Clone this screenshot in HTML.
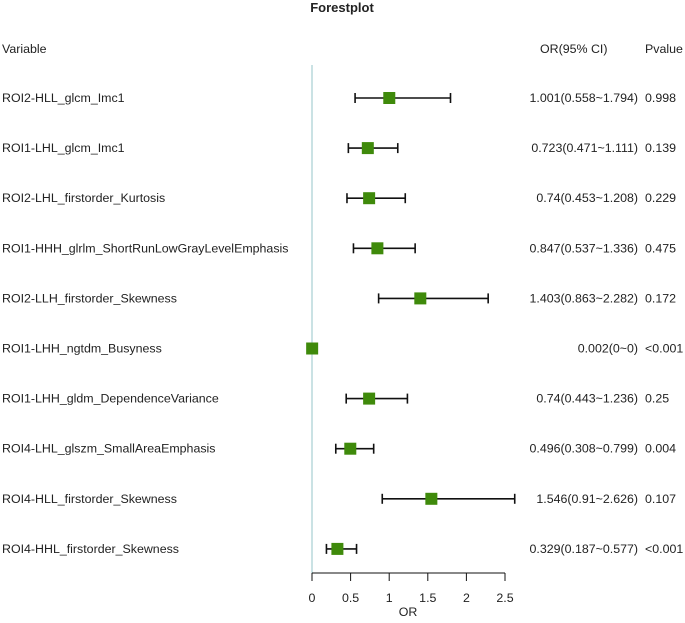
<!DOCTYPE html>
<html><head><meta charset="utf-8"><style>
body{margin:0;background:#fff;font-family:"Liberation Sans",sans-serif;}
text{font-family:"Liberation Sans",sans-serif;fill:#222;}
</style></head><body>
<svg width="685" height="618">
<text x="342" y="12" font-size="13" font-weight="bold" text-anchor="middle">Forestplot</text>
<text x="2" y="53" font-size="12.4">Variable</text>
<text x="540" y="53" font-size="12.4">OR(95% CI)</text>
<text x="645" y="53" font-size="12.4">Pvalue</text>
<line x1="312" y1="65" x2="312" y2="573" stroke="#b8d8dc" stroke-width="1.5"/>
<g id="rows"></g>
<g id="axis"></g>
<text x="408" y="616" font-size="12.4" text-anchor="middle">OR</text>
</svg>
<script>
const variables=["ROI2-HLL_glcm_Imc1","ROI1-LHL_glcm_Imc1","ROI2-LHL_firstorder_Kurtosis","ROI1-HHH_glrlm_ShortRunLowGrayLevelEmphasis","ROI2-LLH_firstorder_Skewness","ROI1-LHH_ngtdm_Busyness","ROI1-LHH_gldm_DependenceVariance","ROI4-LHL_glszm_SmallAreaEmphasis","ROI4-HLL_firstorder_Skewness","ROI4-HHL_firstorder_Skewness"];
const orValues=[1.001,0.723,0.74,0.847,1.403,0.002,0.74,0.496,1.546,0.329];
const lowerCI=[0.558,0.471,0.453,0.537,0.863,0,0.443,0.308,0.91,0.187];
const upperCI=[1.794,1.111,1.208,1.336,2.282,0,1.236,0.799,2.626,0.577];
const ciLabels=["1.001(0.558~1.794)","0.723(0.471~1.111)","0.74(0.453~1.208)","0.847(0.537~1.336)","1.403(0.863~2.282)","0.002(0~0)","0.74(0.443~1.236)","0.496(0.308~0.799)","1.546(0.91~2.626)","0.329(0.187~0.577)"];
const pValues=["0.998","0.139","0.229","0.475","0.172","<0.001","0.25","0.004","0.107","<0.001"];
const ticks=[0,0.5,1,1.5,2,2.5];
const NS="http://www.w3.org/2000/svg";
const xs=v=>312+v*77.2;
const ys=i=>98+i*50.1;
function mk(tag,attrs,parent,txt){const e=document.createElementNS(NS,tag);for(const k in attrs)e.setAttribute(k,attrs[k]);if(txt!==undefined)e.textContent=txt;parent.appendChild(e);return e;}
const rows=document.getElementById('rows');
variables.forEach((v,i)=>{
 const y=ys(i);
 const t1=mk('text',{x:2,y:y+4,'font-size':12.4},rows,v);
 
 
 const t2=mk('text',{x:638,y:y+4,'font-size':12.4,'text-anchor':'end'},rows,ciLabels[i]);
 
 
 const t3=mk('text',{x:645,y:y+4,'font-size':12.4},rows,pValues[i]);
 
 
 if(upperCI[i]>lowerCI[i]){
  const g=mk('g',{stroke:'#111','stroke-width':1.6},rows);
  
  
  mk('line',{x1:xs(lowerCI[i]),x2:xs(upperCI[i]),y1:y,y2:y},g);
  mk('line',{x1:xs(lowerCI[i]),x2:xs(lowerCI[i]),y1:y-5,y2:y+5},g);
  mk('line',{x1:xs(upperCI[i]),x2:xs(upperCI[i]),y1:y-5,y2:y+5},g);
 }
 const r=mk('rect',{x:xs(orValues[i])-6,y:y-6,width:12,height:12,fill:'#3f8a0b'},rows);
 
 
});
const ax=document.getElementById('axis');
const al=mk('line',{x1:xs(0),x2:xs(2.5),y1:573,y2:573,stroke:'#111','stroke-width':1},ax);


ticks.forEach(t=>{
 const tk=mk('line',{x1:xs(t),x2:xs(t),y1:573,y2:581,stroke:'#111'},ax);
 
 
 const tl=mk('text',{x:xs(t),y:602,'font-size':12.4,'text-anchor':'middle'},ax,String(t));
 
 
});
</script>
</body></html>
